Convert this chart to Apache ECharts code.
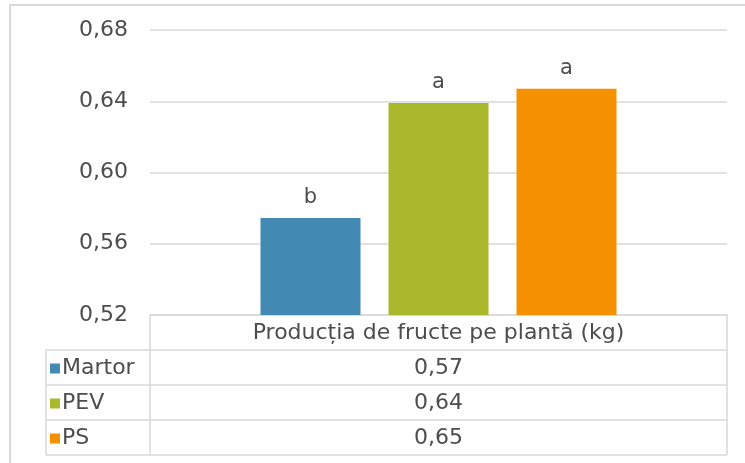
<!DOCTYPE html>
<html>
<head>
<meta charset="utf-8">
<script src="https://cdn.jsdelivr.net/npm/echarts@6/dist/echarts.min.js"></script>
<style>
html,body{margin:0;padding:0;background:#fff;}
#chart{width:745px;height:463px;}
</style>
</head>
<body>
<div id="chart"></div>
<script>
const categoryName = 'Producția de fructe pe plantă (kg)';
const seriesNames = ['Martor', 'PEV', 'PS'];
const seriesValues = [0.5745, 0.639, 0.647];
const letters = ['b', 'a', 'a'];
const colors = ['#428ab4', '#a9b92b', '#f59100'];
const yMin = 0.52, yMax = 0.68, yInterval = 0.04;

const FONT = 'DejaVu Sans';
const TXT = '#4d4d4d';
const LINE = '#d9d9d9';

const W = 745, H = 463;
const gridLeft = 150, gridRight = 727, gridTop = 30, gridBottom = 315;
const tableLeft = 46;
const rowH = 35;
const headerBottom = gridBottom + rowH;
const centerX = (gridLeft + gridRight) / 2;

const fmt = v => v.toFixed(2).replace('.', ',');

const series = seriesNames.map((name, i) => ({
  name: name,
  type: 'bar',
  data: [seriesValues[i]],
  itemStyle: { color: colors[i] },
  barGap: '28%',
  barCategoryGap: '38.3%',
  label: {
    show: true,
    position: 'top',
    distance: 10,
    formatter: () => letters[i],
    color: TXT,
    fontFamily: FONT,
    fontSize: 21
  }
}));

const graphic = [];
graphic.push({ type: 'rect', shape: { x: 10, y: 5, width: 800, height: 600 },
  style: { fill: 'none', stroke: LINE, lineWidth: 2 }, silent: true });
const tableBottom = headerBottom + rowH * seriesNames.length;
graphic.push({ type: 'line', shape: { x1: gridLeft, y1: gridBottom, x2: gridLeft, y2: tableBottom }, style: { stroke: LINE, lineWidth: 1.5 } });
graphic.push({ type: 'line', shape: { x1: gridRight, y1: gridBottom, x2: gridRight, y2: tableBottom }, style: { stroke: LINE, lineWidth: 1.5 } });
graphic.push({ type: 'line', shape: { x1: tableLeft, y1: headerBottom, x2: tableLeft, y2: tableBottom }, style: { stroke: LINE, lineWidth: 1.5 } });
for (let r = 0; r <= seriesNames.length; r++) {
  const y = headerBottom + r * rowH;
  graphic.push({ type: 'line', shape: { x1: tableLeft, y1: y, x2: gridRight, y2: y }, style: { stroke: LINE, lineWidth: 1.5 } });
}
graphic.push({ type: 'text', x: centerX, y: gridBottom + rowH / 2 + 1,
  style: { text: categoryName, fill: TXT, font: '22px "' + FONT + '"', align: 'center', verticalAlign: 'middle' } });
seriesNames.forEach((name, i) => {
  const cy = headerBottom + rowH * i + rowH / 2 + 1;
  graphic.push({ type: 'rect', shape: { x: 50, y: cy - 5, width: 10, height: 10 }, style: { fill: colors[i] } });
  graphic.push({ type: 'text', x: 62, y: cy,
    style: { text: name, fill: TXT, font: '22px "' + FONT + '"', align: 'left', verticalAlign: 'middle' } });
  graphic.push({ type: 'text', x: centerX, y: cy,
    style: { text: fmt(seriesValues[i]), fill: TXT, font: '22px "' + FONT + '"', align: 'center', verticalAlign: 'middle' } });
});

const chart = echarts.init(document.getElementById('chart'), null, { renderer: 'canvas' });
chart.setOption({
  animation: false,
  backgroundColor: '#fff',
  grid: { left: gridLeft, right: W - gridRight, top: gridTop, bottom: H - gridBottom, containLabel: false },
  xAxis: {
    type: 'category',
    data: [categoryName],
    axisLine: { show: true, lineStyle: { color: LINE, width: 1.5 } },
    axisTick: { show: false },
    axisLabel: { show: false }
  },
  yAxis: {
    type: 'value',
    min: yMin, max: yMax, interval: yInterval,
    axisLine: { show: false },
    axisTick: { show: false },
    splitLine: { lineStyle: { color: LINE, width: 1.5 } },
    axisLabel: {
      formatter: v => fmt(v),
      color: TXT, fontFamily: FONT, fontSize: 22, margin: 22
    }
  },
  series: series,
  graphic: graphic
});
</script>
</body>
</html>
